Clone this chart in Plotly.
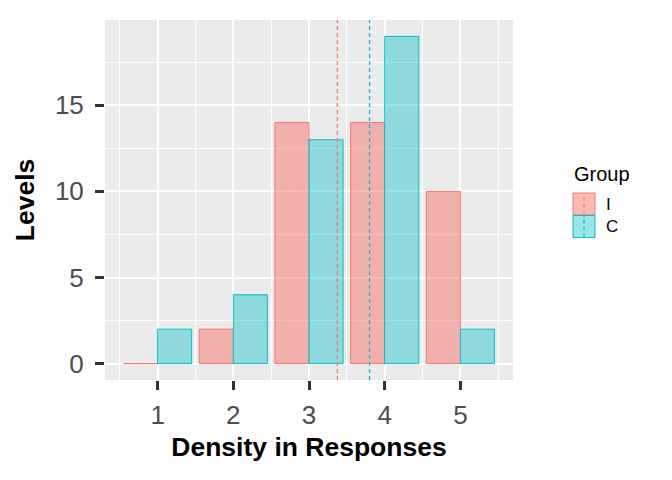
import plotly.graph_objects as go

categories = [1, 2, 3, 4, 5]
group_i = [0, 2, 14, 14, 10]
group_c = [2, 4, 13, 19, 2]
mean_lines = {"I": 3.375, "C": 3.8}
groups = ["I", "C"]
ytick_vals = [0, 5, 10, 15]

RED = "#F8766D"
TEAL = "#00BFC4"
RED_FILL = "rgba(248,118,109,0.5)"
TEAL_FILL = "rgba(0,191,196,0.4)"

fig = go.Figure()
fig.add_trace(go.Bar(x=categories, y=group_i, name="I",
                     marker=dict(color=RED_FILL, line=dict(color=RED, width=1)),
                     showlegend=False))
fig.add_trace(go.Bar(x=categories, y=group_c, name="C",
                     marker=dict(color=TEAL_FILL, line=dict(color=TEAL, width=1)),
                     showlegend=False))

shapes = []
for g, col in zip(groups, [RED, TEAL]):
    shapes.append(dict(type="line", xref="x", yref="paper", x0=mean_lines[g], x1=mean_lines[g],
                       y0=0, y1=1, line=dict(color=col, width=1.3, dash="4px,3px"), layer="above"))

# custom legend (ggplot-like)
W, H = 408.0, 360.0
L, T = 105.0, 20.0
def px(xp):
    return (xp - L) / W
def py(yp):
    return (T + H - yp) / H

keys = [("I", RED, RED_FILL, 193, 215), ("C", TEAL, TEAL_FILL, 215.5, 237.5)]
annotations = [dict(text="Group", x=px(572), y=py(174), xref="paper", yref="paper",
                    xanchor="left", yanchor="middle", showarrow=False,
                    font=dict(size=20, color="black", family="Liberation Sans"))]
for name, col, fill, ytop, ybot in keys:
    shapes.append(dict(type="rect", xref="paper", yref="paper", x0=px(573), x1=px(595),
                       y0=py(ybot), y1=py(ytop), fillcolor=fill, line=dict(color=col, width=1)))
    shapes.append(dict(type="line", xref="paper", yref="paper", x0=px(584), x1=px(584),
                       y0=py(ybot), y1=py(ytop), line=dict(color=col, width=1.2, dash="4px,3px")))
    annotations.append(dict(text=name, x=px(604), y=py((ytop + ybot) / 2), xref="paper", yref="paper",
                            xanchor="left", yanchor="middle", showarrow=False,
                            font=dict(size=17, color="black", family="Liberation Sans")))

fig.update_layout(
    width=672, height=480,
    margin=dict(l=105, r=159, t=20, b=100),
    paper_bgcolor="white", plot_bgcolor="#EBEBEB",
    barmode="group", bargap=0.1, bargroupgap=0,
    shapes=shapes, annotations=annotations,
    font=dict(family="Liberation Sans"),
    xaxis=dict(range=[0.305, 5.695], tickvals=categories, ticktext=[str(c) for c in categories],
               showgrid=True, gridcolor="white", gridwidth=2, zeroline=False,
               ticks="outside", ticklen=9, tickwidth=3, tickcolor="#333333",
               ticklabelstandoff=3,
               tickfont=dict(size=26, color="#4D4D4D"),
               minor=dict(tickvals=[0.5, 1.5, 2.5, 3.5, 4.5, 5.5], showgrid=True,
                          gridcolor="white", gridwidth=1, ticks=""),
               title=dict(text="<b>Density in Responses</b>", font=dict(size=26.5, color="black"), standoff=8)),
    yaxis=dict(range=[-0.95, 19.95], tickvals=ytick_vals,
               showgrid=True, gridcolor="white", gridwidth=2, zeroline=False,
               ticks="outside", ticklen=9, tickwidth=3, tickcolor="#333333",
               ticklabelstandoff=6,
               tickfont=dict(size=26, color="#4D4D4D"),
               minor=dict(tickvals=[2.5, 7.5, 12.5, 17.5], showgrid=True,
                          gridcolor="white", gridwidth=1, ticks=""),
               title=dict(text="<b>Levels</b>", font=dict(size=26.5, color="black"), standoff=12)),
)

fig.write_html("out.html")
